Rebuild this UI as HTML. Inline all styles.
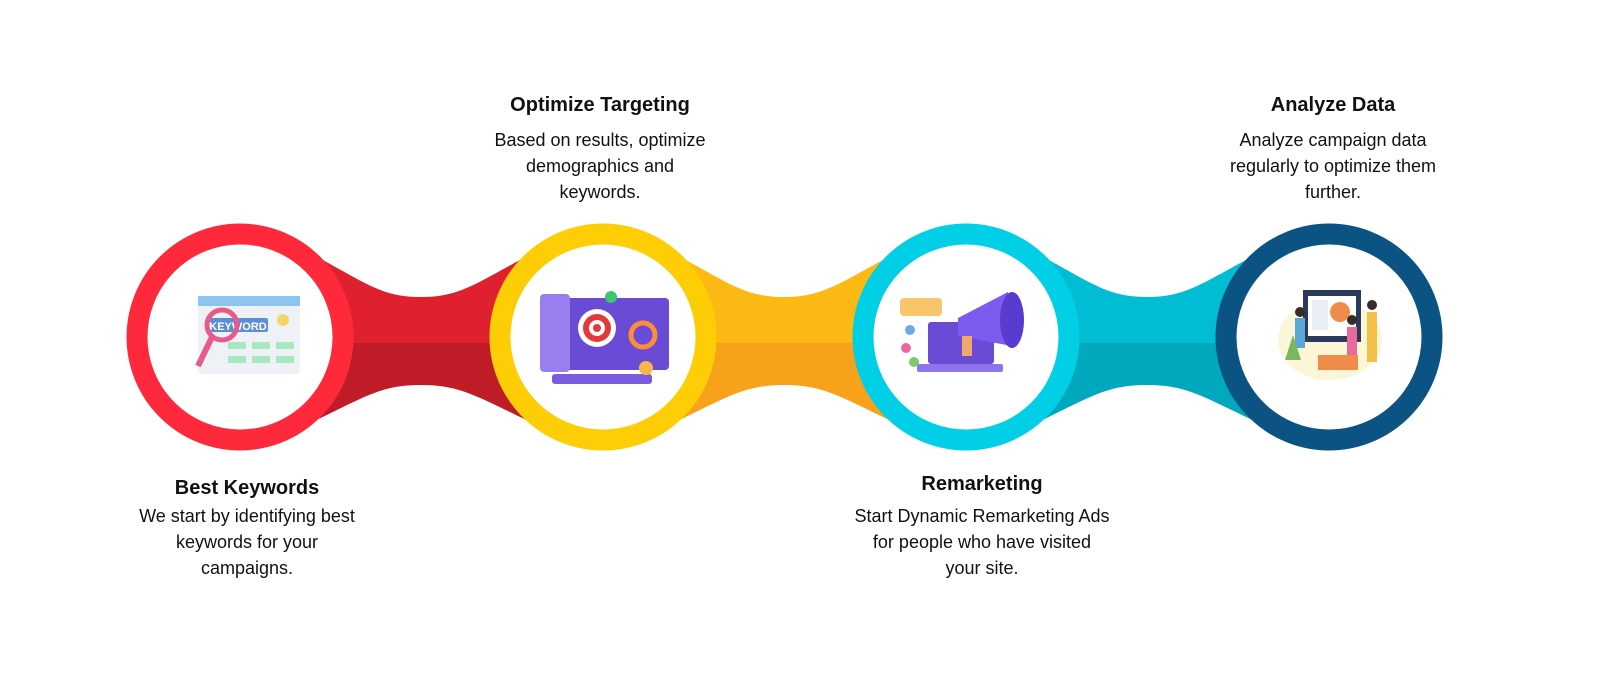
<!DOCTYPE html>
<html><head><meta charset="utf-8"><style>
body{margin:0;width:1600px;height:685px;background:#fff;overflow:hidden;font-family:"Liberation Sans",sans-serif;}
svg{position:absolute;left:0;top:0}
</style></head><body>
<svg width="1600" height="685" viewBox="0 0 1600 685">
<!-- connectors -->
<g transform="translate(240,337)">
<path d="M0 -86 L66 -86 C125 -55 140 -40 181 -40 C222 -40 237 -55 297 -86 L363 -86 L363 6 L0 6Z" fill="#de202f"/>
<path d="M0 88 L66 88 C125 60 140 48 181 48 C222 48 237 60 297 88 L363 88 L363 6 L0 6Z" fill="#c01c28"/>
</g>
<g transform="translate(603,337)">
<path d="M0 -86 L66 -86 C125 -55 140 -40 181 -40 C222 -40 237 -55 297 -86 L363 -86 L363 6 L0 6Z" fill="#fcb813"/>
<path d="M0 88 L66 88 C125 60 140 48 181 48 C222 48 237 60 297 88 L363 88 L363 6 L0 6Z" fill="#f8a11a"/>
</g>
<g transform="translate(966,337)">
<path d="M0 -86 L66 -86 C125 -55 140 -40 181 -40 C222 -40 237 -55 297 -86 L363 -86 L363 6 L0 6Z" fill="#00bdd3"/>
<path d="M0 88 L66 88 C125 60 140 48 181 48 C222 48 237 60 297 88 L363 88 L363 6 L0 6Z" fill="#00a8bd"/>
</g>
<!-- circles -->
<circle cx="240" cy="337" r="103" fill="#fff" stroke="#fe2a3c" stroke-width="21"/>
<circle cx="603" cy="337" r="103" fill="#fff" stroke="#fdce05" stroke-width="21"/>
<circle cx="966" cy="337" r="103" fill="#fff" stroke="#01cfe6" stroke-width="21"/>
<circle cx="1329" cy="337" r="103" fill="#fff" stroke="#0b5382" stroke-width="21"/>
<!-- icon 1 -->
<rect x="198" y="296" width="102" height="78" rx="4" fill="#eef2f6"/>
<rect x="198" y="296" width="102" height="10" fill="#8cc4f2"/>
<rect x="210" y="318" width="58" height="14" rx="2" fill="#5a8fd6"/>
<text x="238" y="330" font-size="11" font-weight="bold" fill="#fff" text-anchor="middle">KEYWORD</text>
<g fill="#a8e8c0"><rect x="228" y="342" width="18" height="7"/><rect x="252" y="342" width="18" height="7"/><rect x="276" y="342" width="18" height="7"/><rect x="228" y="356" width="18" height="7"/><rect x="252" y="356" width="18" height="7"/><rect x="276" y="356" width="18" height="7"/></g>
<circle cx="222" cy="325" r="15" fill="none" stroke="#e85a8a" stroke-width="5"/>
<line x1="212" y1="337" x2="198" y2="366" stroke="#e85a8a" stroke-width="6"/>
<circle cx="283" cy="320" r="6" fill="#f7d36b"/>
<!-- icon 2 -->
<rect x="545" y="298" width="124" height="72" rx="4" fill="#6a4bd6"/>
<rect x="540" y="294" width="30" height="78" rx="4" fill="#9a7ef0"/>
<circle cx="597" cy="328" r="19" fill="#fff"/><circle cx="597" cy="328" r="14" fill="#e5383b"/><circle cx="597" cy="328" r="8" fill="#fff"/><circle cx="597" cy="328" r="4" fill="#e5383b"/>
<circle cx="643" cy="335" r="12" fill="none" stroke="#ff8c3a" stroke-width="5"/>
<rect x="552" y="374" width="100" height="10" rx="3" fill="#7b5ce0"/>
<circle cx="646" cy="368" r="7" fill="#f7b84a"/>
<circle cx="611" cy="297" r="6" fill="#3ec46d"/>
<!-- icon 3 -->
<rect x="900" y="298" width="42" height="18" rx="4" fill="#f9c56a"/>
<rect x="928" y="322" width="66" height="42" rx="3" fill="#6a4bd6"/>
<rect x="917" y="364" width="86" height="8" rx="2" fill="#8e74ea"/>
<path d="M958 318 L1008 292 L1012 346 L958 336Z" fill="#7c5cf0"/>
<ellipse cx="1012" cy="320" rx="12" ry="28" fill="#5a3bd0"/>
<rect x="962" y="336" width="10" height="20" fill="#f2a86b"/>
<circle cx="910" cy="330" r="5" fill="#6aa8e8"/><circle cx="906" cy="348" r="5" fill="#e86a9a"/><circle cx="914" cy="362" r="5" fill="#7acb6a"/>
<!-- icon 4 -->
<ellipse cx="1330" cy="340" rx="52" ry="40" fill="#fbf7d6"/>
<rect x="1303" y="290" width="58" height="52" fill="#2b3a5a"/>
<rect x="1308" y="296" width="48" height="40" fill="#fff"/>
<circle cx="1340" cy="312" r="10" fill="#f08c4a"/>
<rect x="1312" y="300" width="16" height="30" fill="#e9eef5"/>
<rect x="1318" y="355" width="40" height="15" fill="#f08c4a"/>
<circle cx="1300" cy="312" r="5" fill="#3a2a2a"/><rect x="1295" y="318" width="10" height="30" fill="#5aa6d8"/>
<circle cx="1372" cy="305" r="5" fill="#3a2a2a"/><rect x="1367" y="312" width="10" height="50" fill="#f4c04a"/>
<circle cx="1352" cy="320" r="5" fill="#3a2a2a"/><rect x="1347" y="327" width="10" height="28" fill="#e86a9a"/>
<path d="M1285 360 l8 -25 l8 25z" fill="#7ab860"/>
</svg>
<div style="position:absolute;left:0;top:0;width:1600px;height:685px;text-align:center;color:#111;">
<div style="position:absolute;left:440px;top:94px;width:320px;font-size:20px;font-weight:bold;">Optimize Targeting</div>
<div style="position:absolute;left:440px;top:127px;width:320px;font-size:18px;line-height:26px;">Based on results, optimize<br>demographics and<br>keywords.</div>
<div style="position:absolute;left:1173px;top:94px;width:320px;font-size:20px;font-weight:bold;">Analyze Data</div>
<div style="position:absolute;left:1173px;top:127px;width:320px;font-size:18px;line-height:26px;">Analyze campaign data<br>regularly to optimize them<br>further.</div>
<div style="position:absolute;left:87px;top:477px;width:320px;font-size:20px;font-weight:bold;">Best Keywords</div>
<div style="position:absolute;left:87px;top:503px;width:320px;font-size:18px;line-height:26px;">We start by identifying best<br>keywords for your<br>campaigns.</div>
<div style="position:absolute;left:812px;top:473px;width:340px;font-size:20px;font-weight:bold;">Remarketing</div>
<div style="position:absolute;left:812px;top:503px;width:340px;font-size:18px;line-height:26px;">Start Dynamic Remarketing Ads<br>for people who have visited<br>your site.</div>
</div>
</body></html>
